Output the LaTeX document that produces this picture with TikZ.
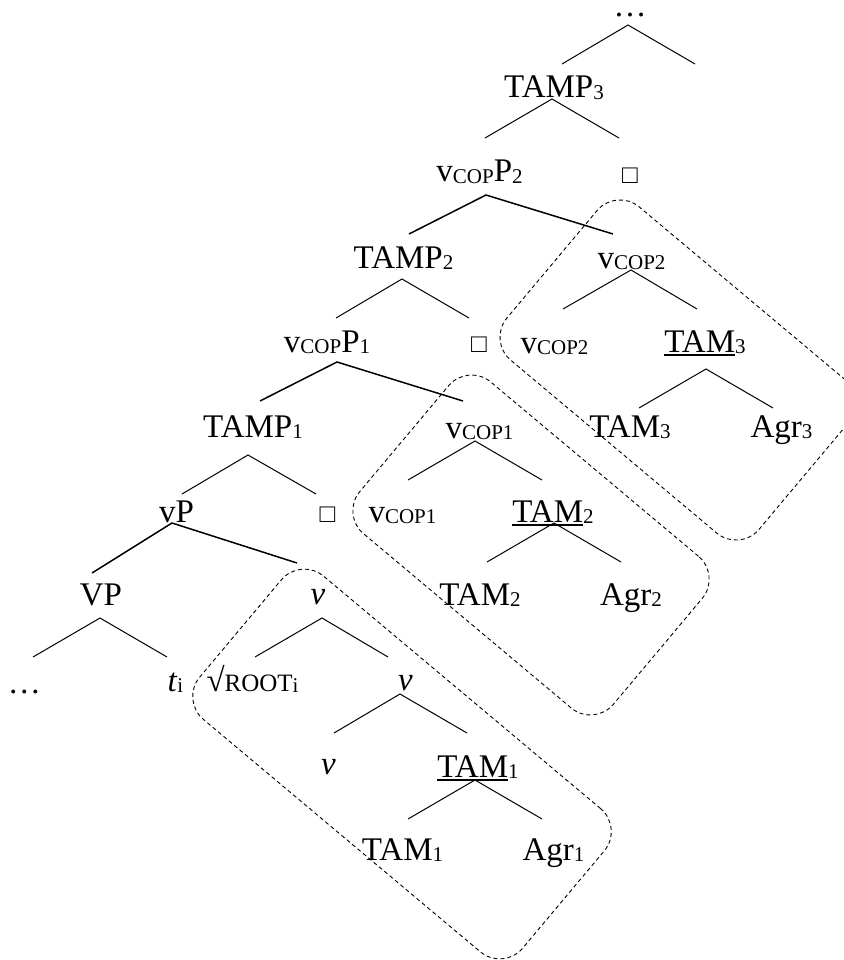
\documentclass[tikz,border=0pt]{standalone}
\usepackage{fontspec}
\setmainfont{Liberation Serif}
\newcommand\mysub[1]{\raisebox{-1.5pt}{\fontsize{21}{21}\selectfont #1}}
\newcommand\rootsz[1]{{\fontsize{25}{25}\selectfont #1}}
\newcommand\ulx[1]{\setbox0\hbox{#1}\rlap{\rule[-4pt]{\wd0}{1.8pt}}\box0}
\newcommand\sqbox{{\fontsize{26}{26}\selectfont □}}
\tikzset{
  lbl/.style={anchor=base, inner sep=0pt, font=\fontsize{33}{40}\selectfont},
  br/.style={line width=1pt},
  thk/.style={line width=1.5pt},
  grp/.style={draw, dash pattern=on 4pt off 3pt, line width=0.9pt,
              rounded corners=30pt, rotate=-40, inner sep=0pt}
}
\begin{document}
\begin{tikzpicture}[x=1pt, y=-1pt]
\useasboundingbox (0,0) rectangle (843,960);

% dashed groups
\node[grp, minimum width=421.6pt, minimum height=187pt] (box1) at (402,764) {};
\node[grp, minimum width=331pt, minimum height=198pt] (box2) at (531,545) {};
\node[grp, minimum width=329pt, minimum height=200pt] (box3) at (678,370) {};

% labels
\node[lbl, text height=5pt, text depth=0pt] (topdots) at (630,17) {…};
\node[lbl] (tamp3) at (554,98) {TAMP\mysub{3}};
\node[lbl] (vcopp2) at (479.5,182) {v\mysub{COP}P\mysub{2}};
\node[lbl] (sq1) at (630,183.5) {\sqbox};
\node[lbl] (tamp2) at (403.5,268) {TAMP\mysub{2}};
\node[lbl] (vcop2a) at (631.5,268) {v\mysub{COP2}};
\node[lbl] (vcopp1) at (327,352) {v\mysub{COP}P\mysub{1}};
\node[lbl] (sq2) at (479,352.5) {\sqbox};
\node[lbl] (vcop2b) at (554.5,353) {v\mysub{COP2}};
\node[lbl] (tam3u) at (705,352) {\ulx{TAM}\mysub{3}};
\node[lbl] (tamp1) at (253,437) {TAMP\mysub{1}};
\node[lbl] (vcop1a) at (479.5,438) {v\mysub{COP1}};
\node[lbl] (tam3) at (630,437) {TAM\mysub{3}};
\node[lbl] (agr3) at (781.5,437) {Agr\mysub{3}};
\node[lbl] (vp) at (176.5,522) {vP};
\node[lbl] (sq3) at (327.5,522.5) {\sqbox};
\node[lbl] (vcop1b) at (402.5,522) {v\mysub{COP1}};
\node[lbl] (tam2u) at (553,522) {\ulx{TAM}\mysub{2}};
\node[lbl] (bigvp) at (101,605) {VP};
\node[lbl] (v1) at (318,604) {\textit{v}};
\node[lbl] (tam2) at (480,605) {TAM\mysub{2}};
\node[lbl] (agr2) at (631,605) {Agr\mysub{2}};
\node[lbl] (leftdots) at (24.5,693) {…};
\node[lbl] (ti) at (175.5,691) {\textit{t}\mysub{i}};
\node[lbl] (root) at (252.5,691) {√\rootsz{ROOT}\mysub{i}};
\node[lbl] (v2) at (405.5,690) {\textit{v}};
\node[lbl] (v3) at (328.5,774) {\textit{v}};
\node[lbl] (tam1u) at (478,777) {\ulx{TAM}\mysub{1}};
\node[lbl] (tam1) at (402.5,860) {TAM\mysub{1}};
\node[lbl] (agr1) at (553.5,860) {Agr\mysub{1}};

% branch points
\coordinate (a0) at (628,25);  \coordinate (a0l) at (562,64);  \coordinate (a0r) at (695,64);
\coordinate (a1) at (552,99);  \coordinate (a1l) at (485,138); \coordinate (a1r) at (619,138);
\coordinate (a2) at (486,195); \coordinate (a2l) at (409,234); \coordinate (a2r) at (613,234);
\coordinate (a3) at (402,279); \coordinate (a3l) at (336,318); \coordinate (a3r) at (469,318);
\coordinate (a4) at (631,270); \coordinate (a4l) at (563,309); \coordinate (a4r) at (697,309);
\coordinate (a5) at (337,362); \coordinate (a5l) at (260,401); \coordinate (a5r) at (463,401);
\coordinate (a6) at (706,369); \coordinate (a6l) at (639,408); \coordinate (a6r) at (773,408);
\coordinate (a7) at (248,455); \coordinate (a7l) at (182,494); \coordinate (a7r) at (316,494);
\coordinate (a8) at (475,441); \coordinate (a8l) at (408,480); \coordinate (a8r) at (542,480);
\coordinate (a9) at (172,523); \coordinate (a9l) at (92,573);  \coordinate (a9r) at (297,563);
\coordinate (a10) at (554,523); \coordinate (a10l) at (487,562); \coordinate (a10r) at (621,562);
\coordinate (a11) at (100,618); \coordinate (a11l) at (33,657);  \coordinate (a11r) at (167,657);
\coordinate (a12) at (322,618); \coordinate (a12l) at (255,657); \coordinate (a12r) at (388,657);
\coordinate (a13) at (400,694); \coordinate (a13l) at (334,733); \coordinate (a13r) at (467,733);
\coordinate (a14) at (475,780); \coordinate (a14l) at (408,819); \coordinate (a14r) at (542,819);

\draw[br] (a0l) -- (a0) -- (a0r);
\draw[br] (a1l) -- (a1) -- (a1r);
\draw[thk] (a2l) -- (a2) -- (a2r);
\draw[br] (a3l) -- (a3) -- (a3r);
\draw[br] (a4l) -- (a4) -- (a4r);
\draw[thk] (a5l) -- (a5) -- (a5r);
\draw[br] (a6l) -- (a6) -- (a6r);
\draw[br] (a7l) -- (a7) -- (a7r);
\draw[br] (a8l) -- (a8) -- (a8r);
\draw[thk] (a9l) -- (a9) -- (a9r);
\draw[br] (a10l) -- (a10) -- (a10r);
\draw[br] (a11l) -- (a11) -- (a11r);
\draw[br] (a12l) -- (a12) -- (a12r);
\draw[br] (a13l) -- (a13) -- (a13r);
\draw[br] (a14l) -- (a14) -- (a14r);
\end{tikzpicture}
\end{document}
